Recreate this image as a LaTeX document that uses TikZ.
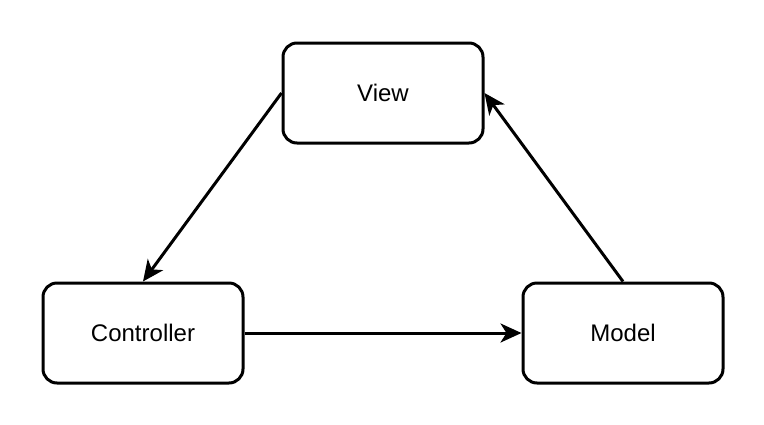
\documentclass[tikz,border=0pt]{standalone}
\usepackage{fontspec}
\setmainfont{Liberation Sans}
\usetikzlibrary{arrows.meta}
\begin{document}
\begin{tikzpicture}[x=1pt,y=-1pt,
  box/.style={draw=black,line width=3pt,rounded corners=14pt,minimum width=200pt,minimum height=100pt,inner sep=0pt,font=\fontsize{24}{28}\selectfont},
  conn/.style={line width=3pt,-{Stealth[length=21pt,width=19pt,inset=6pt]}}]
\useasboundingbox (0,0) rectangle (764,424);
\node[box] (view) at (383,93) {View};
\node[box] (ctrl) at (143,333) {Controller};
\node[box] (model) at (623,333) {Model};
\draw[conn] (view.west) -- (ctrl.north);
\draw[conn] (model.north) -- (view.east);
\draw[conn] (ctrl.east) -- (model.west);
\end{tikzpicture}
\end{document}
